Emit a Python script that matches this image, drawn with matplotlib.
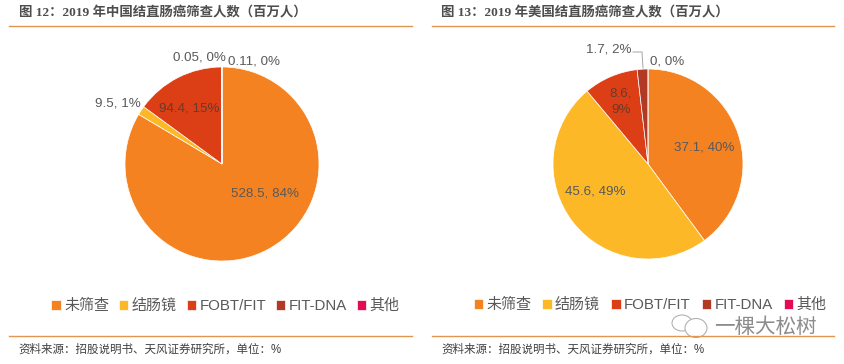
import matplotlib
matplotlib.use("Agg")
import matplotlib.pyplot as plt
from matplotlib.lines import Line2D
from matplotlib.patches import Ellipse

W, H = 845, 364
categories = ["未筛查", "结肠镜", "FOBT/FIT", "FIT-DNA", "其他"]
china_values = [528.5, 9.5, 94.4, 0.05, 0.11]
us_values = [37.1, 45.6, 8.6, 1.7, 0]
colors = ["#F58220", "#FDB827", "#DC3F16", "#B03A26", "#E30B53"]
title_left = "图 12：2019 年中国结直肠癌筛查人数（百万人）"
title_right = "图 13：2019 年美国结直肠癌筛查人数（百万人）"
source = "资料来源：招股说明书、天风证券研究所，单位：%"
china_labels = ["528.5, 84%", "9.5, 1%", "94.4, 15%", "0.05, 0%", "0.11, 0%"]
us_labels = ["37.1, 40%", "45.6, 49%", "8.6,\n9%", "1.7, 2%", "0, 0%"]

LABEL_FONT = ["Liberation Sans"]
LABEL_SIZE = 9.6
SANS = ["Liberation Sans", "Noto Sans CJK SC"]
SERIF = ["Liberation Serif", "Noto Sans CJK SC"]
GRAY = "#595959"
RULE = "#DE9650"

fig = plt.figure(figsize=(W / 100, H / 100), dpi=100, facecolor="white")
tr = fig.transFigure
def fx(x): return x / W
def fy(y): return 1 - y / H
def put(x, y, s, **kw):
    kw.setdefault("ha", "center"); kw.setdefault("va", "center")
    kw.setdefault("family", SANS); kw.setdefault("color", GRAY)
    kw.setdefault("fontsize", 9.8)
    fig.text(fx(x), fy(y), s, **kw)

def pie(cx, cy, r, values):
    ax = fig.add_axes([fx(cx - r), fy(cy + r), 2 * r / W, 2 * r / H])
    wedges, _ = ax.pie(values, colors=colors, startangle=90, counterclock=False,
                       radius=1, wedgeprops=dict(edgecolor="white", linewidth=0.5))
    ax.set_xlim(-1, 1); ax.set_ylim(-1, 1); ax.set_aspect("auto")
    return wedges

w1 = pie(222, 164, 97, china_values)
w2 = pie(648, 164, 95, us_values)

# Labels
for (x, y), s, c in zip([(265, 193), (118, 103), (189, 108), (199, 57), (254, 61)],
                        china_labels,
                        [GRAY, GRAY, "#6B3A2A", GRAY, GRAY]):
    put(x, y, s, color=c, family=LABEL_FONT, fontsize=LABEL_SIZE)
for (x, y), s, c in zip([(704, 147), (595, 192), (621, 102), (609, 50), (667, 61)],
                        us_labels,
                        [GRAY, GRAY, "#6B3A2A", GRAY, GRAY]):
    put(x, y, s, color=c, linespacing=1.55, family=LABEL_FONT, fontsize=LABEL_SIZE)
fig.add_artist(Line2D([fx(633), fx(642), fx(643)], [fy(52), fy(52), fy(68)],
                      transform=tr, color="#A6A6A6", lw=0.7))

# Rules, titles, sources
for x0, x1, tx, sx, t in [(9, 412, 19, 18, title_left), (432, 834, 441, 441, title_right)]:
    for y in (26, 336):
        fig.add_artist(Line2D([fx(x0), fx(x1)], [fy(y), fy(y)], transform=tr, color=RULE, lw=1.0))
    put(tx, 13, t, ha="left", family=SERIF, fontweight="bold", fontsize=9.65, color="#4D4D4D")
    put(sx, 350, source, ha="left", fontsize=8.3, color="#404040")

# Legends
for wedges, cx, cy, gap in [(w1, 225.5, 306, 0.67), (w2, 650, 305, 0.75)]:
    fig.legend(wedges, categories, loc="center", bbox_to_anchor=(fx(cx), fy(cy)),
               ncol=5, frameon=False, handlelength=0.62, handleheight=0.62,
               handletextpad=0.22, columnspacing=gap, borderpad=0, borderaxespad=0,
               prop={"family": SANS, "size": 10.8}, labelcolor=GRAY)

# Watermark
for (x, y, a, b) in [(682, 323, 20, 16), (696, 328, 22, 19)]:
    fig.add_artist(Ellipse((fx(x), fy(y)), a / W, b / H, transform=tr,
                           facecolor="white", edgecolor="#A8A8A8", lw=0.7))
put(714, 327, "一棵大松树", ha="left", fontsize=14.8, color="#8C8C8C",
    family=["Noto Sans CJK SC"], fontweight="light")
fig.savefig("out.png", dpi=100)
